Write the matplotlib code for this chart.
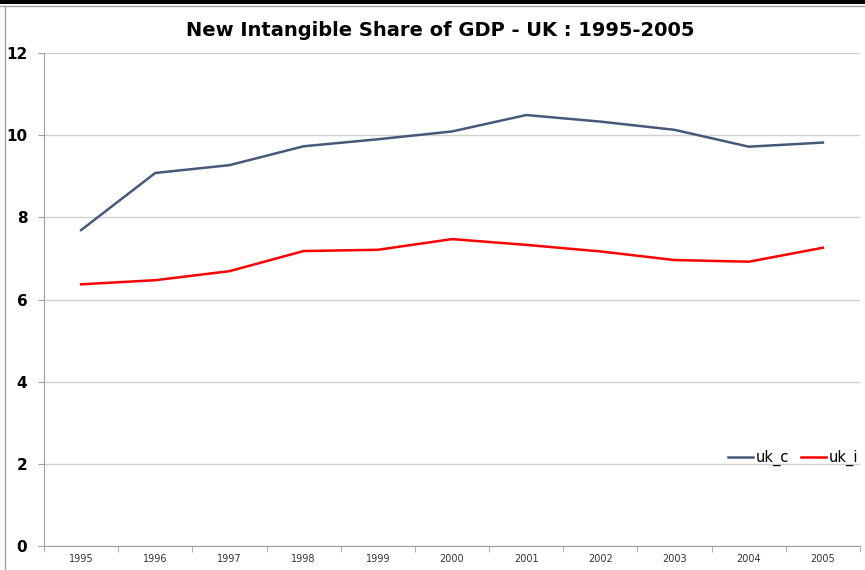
import matplotlib
matplotlib.use("Agg")
import matplotlib.pyplot as plt
from matplotlib.patches import Rectangle
from matplotlib.ticker import FixedLocator, NullFormatter

years = ["1995", "1996", "1997", "1998", "1999", "2000", "2001", "2002", "2003", "2004", "2005"]
uk_c = [7.69, 9.08, 9.27, 9.73, 9.90, 10.09, 10.49, 10.33, 10.13, 9.72, 9.82]
uk_i = [6.37, 6.47, 6.69, 7.18, 7.21, 7.47, 7.33, 7.17, 6.96, 6.92, 7.26]

fig = plt.figure(figsize=(8.65, 5.7), dpi=100)
fig.patch.set_facecolor("white")

# frame decorations
fig.patches.append(Rectangle((0, 1 - 4/570), 1, 4/570, transform=fig.transFigure,
                             facecolor="black", edgecolor="none", zorder=0))
fig.add_artist(plt.Line2D([0, 1], [1 - 6/570, 1 - 6/570], transform=fig.transFigure,
                          color="#A0A0A0", lw=1))
fig.add_artist(plt.Line2D([5/865, 5/865], [0, 1 - 6/570], transform=fig.transFigure,
                          color="#A0A0A0", lw=1))

ax = fig.add_axes([44/865, 24/570, 816/865, 493/570])
x = list(range(len(years)))
ax.plot(x, uk_c, color="#46597A", lw=1.8, label="uk_c")
ax.plot(x, uk_i, color="#FF0000", lw=1.8, label="uk_i")

ax.set_xlim(-0.5, len(years) - 0.5)
ax.set_ylim(0, 12)
ax.set_yticks(range(0, 13, 2))
ax.yaxis.grid(True, color="#D0D0D0", lw=1)
ax.set_axisbelow(True)

ax.set_xticks(x)
ax.set_xticklabels(years, fontsize=7, color="#333333")
ax.tick_params(axis="x", which="major", length=0, pad=6)
ax.xaxis.set_minor_locator(FixedLocator([i - 0.5 for i in range(len(years) + 1)]))
ax.xaxis.set_minor_formatter(NullFormatter())
ax.tick_params(axis="x", which="minor", length=4, color="#A0A0A0", direction="out")
ax.tick_params(axis="y", length=4, color="#A0A0A0", labelsize=11, pad=8)
for lab in ax.get_yticklabels():
    lab.set_fontweight("bold")

for s in ["top", "right"]:
    ax.spines[s].set_visible(False)
for s in ["left", "bottom"]:
    ax.spines[s].set_color("#A0A0A0")

ax.legend(loc="center", bbox_to_anchor=(0.918, 0.178), ncol=2, frameon=False,
          fontsize=10.5, handlelength=1.7, handletextpad=0.2, columnspacing=0.8)

fig.text(440/865, 1 - 31/570, "New Intangible Share of GDP - UK : 1995-2005",
         ha="center", va="center", fontsize=14, fontweight="bold")

fig.savefig("out.png", dpi=100)
